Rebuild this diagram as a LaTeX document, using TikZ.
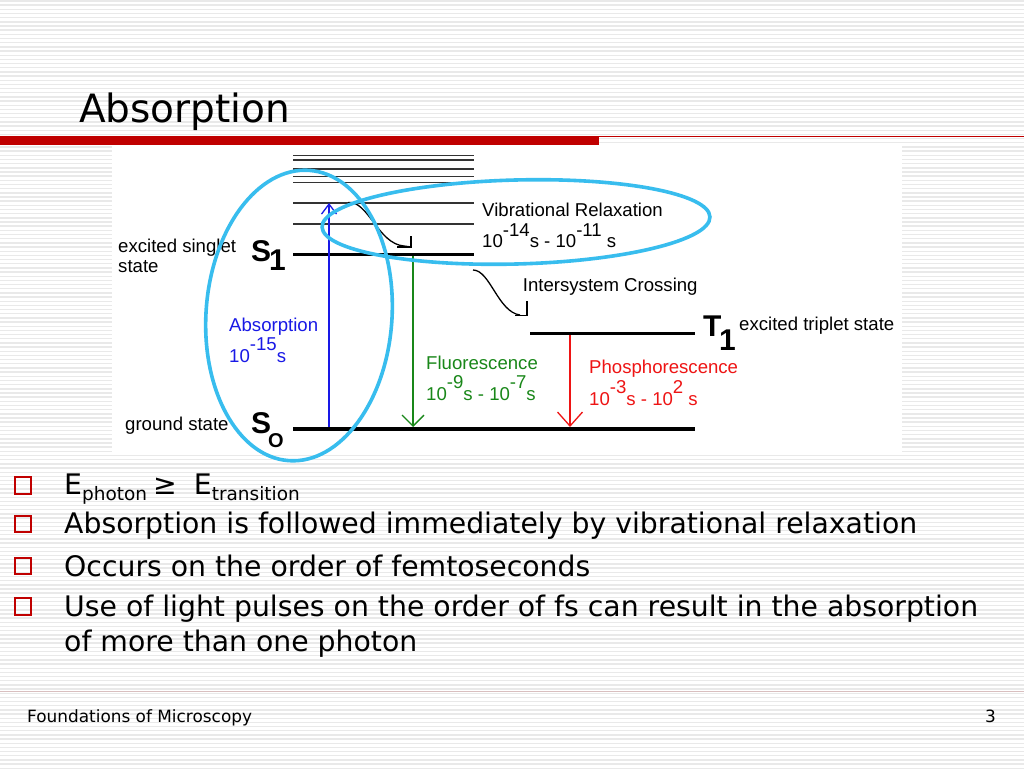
\documentclass[tikz,border=0pt]{standalone}
\usepackage{fontspec}
\setmainfont{DejaVu Sans}
\newfontfamily\diafont{Liberation Sans}
\usetikzlibrary{arrows.meta}
\definecolor{slidered}{RGB}{192,0,0}
\definecolor{ringblue}{RGB}{56,189,238}
\definecolor{absblue}{RGB}{25,25,230}
\definecolor{fluogreen}{RGB}{25,135,25}
\definecolor{phosred}{RGB}{238,20,20}
\definecolor{stripe}{RGB}{233,233,233}
\newcommand\expo[1]{\raisebox{.6em}{#1}}
\newcommand\lowsub[1]{\raisebox{-6pt}{\fontsize{18.5}{18.5}\selectfont #1}}
\tikzset{
  txt/.style={anchor=base west, inner sep=0pt},
  dia/.style={txt, font=\diafont\fontsize{18.6}{20}\selectfont},
  big/.style={txt, font=\diafont\bfseries\fontsize{30}{30}\selectfont},
  vib/.style={line width=1.2pt, black!80},
  lev/.style={line width=3pt},
  ring/.style={ringblue, line width=3.6pt},
  hook/.style={line width=1.3pt},
  bullet/.style={draw=slidered, line width=2.4pt, minimum size=16.5pt, inner sep=0pt},
  bl/.style={txt, font=\fontsize{28.3}{34}\selectfont},
}
\begin{document}
\begin{tikzpicture}[x=1pt,y=-1pt]
  \useasboundingbox (0,0) rectangle (1024,768);
  \fill[white] (0,0) rectangle (1024,768);
  \foreach \i in {0,...,184}
    \draw[stripe, line width=1.4pt] (0,\i*4.17+1) -- (1024,\i*4.17+1);
  \fill[white] (112,145) rectangle (902,453);
  \fill[slidered] (0,136) rectangle (599,145);
  \draw[slidered, line width=1.2pt] (599,136.6) -- (1024,136.6);
  \node[txt, font=\fontsize{39}{39}\selectfont] (title) at (79,122) {Absorption};
  \foreach \y in {155.7,160,169,176.7,182.7,203,224}
    \draw[vib] (293,\y) -- (474,\y);
  \draw[lev] (293,254.3) coordinate (s1L) -- (474,254.3) coordinate (s1R);
  \draw[lev, line width=4.4pt] (293,429) coordinate (s0L) -- (695,429) coordinate (s0R);
  \draw[lev] (530,333.3) coordinate (t1L) -- (695,333.3) coordinate (t1R);
  \coordinate (absFoot) at (329,427);
  \coordinate (absTop) at (329,203);
  \coordinate (fluoTop) at (413,256);
  \coordinate (fluoFoot) at (413,427);
  \coordinate (phosTop) at (570,335);
  \coordinate (phosFoot) at (570,427);
  \draw[absblue, line width=1.3pt, -{Straight Barb[length=10pt,width=15pt]}] (absFoot) -- (absTop);
  \draw[fluogreen, line width=1.3pt, -{Straight Barb[length=11pt,width=22pt]}] (fluoTop) -- (fluoFoot);
  \draw[phosred, line width=1.3pt, -{Straight Barb[length=14pt,width=25pt]}] (phosTop) -- (phosFoot);
  \draw[hook] (348,202.5) .. controls (368,200) and (378,244) .. (404,246) -- (411,247);
  \draw[hook] (411,236) |- (397,247);
  \draw[hook] (473,270) .. controls (490,270) and (498,312) .. (520,315);
  \draw[hook] (527,301) |- (515,315.5);
  \node[big] (S1) at (251,261.7) {S};
  \node[big] (S1sub) at (269,270) {1};
  \node[big] (S0) at (251,433) {S};
  \node[txt, font=\diafont\bfseries\fontsize{20}{20}\selectfont] (S0sub) at (268,447) {O};
  \node[big] (T1) at (703,336.7) {T};
  \node[big] (T1sub) at (719,350) {1};
  \node[dia] (singlet) at (118,252) {excited singlet};
  \node[dia] (singlet2) at (118,272) {state};
  \node[dia] (ground) at (125,430) {ground state};
  \node[dia] (triplet) at (739,330) {excited triplet state};
  \node[dia, absblue] (absLbl) at (229,331) {Absorption};
  \node[dia, absblue] (absTime) at (229,362) {10\expo{-15}s};
  \node[dia, fluogreen] (fluoLbl) at (426,369) {Fluorescence};
  \node[dia, fluogreen] (fluoTime) at (426,400) {10\expo{-9}s - 10\expo{-7}s};
  \node[dia, phosred] (phosLbl) at (589,373.3) {Phosphorescence};
  \node[dia, phosred] (phosTime) at (589,405) {10\expo{-3}s - 10\expo{2} s};
  \node[dia] (vrLbl) at (482,216) {Vibrational Relaxation};
  \node[dia] (vrTime) at (482,247.5) {10\expo{-14}s - 10\expo{-11} s};
  \node[dia] (iscLbl) at (522.7,291.7) {Intersystem Crossing};
  \draw[ring, rotate around={-4:(299,315.5)}] (299,315.5) ellipse [x radius=93, y radius=145.5];
  \draw[ring, rotate around={1.5:(516,222)}] (516,222) ellipse [x radius=194, y radius=42];
  \node[bullet] (b1) at (23,485.5) {};
  \node[bullet] (b2) at (23,524) {};
  \node[bullet] (b3) at (23,566) {};
  \node[bullet] (b4) at (23,606.5) {};
  \node[bl] (line1) at (64,494) {E\lowsub{photon}\hspace{6pt}≥\hspace{17pt}E\lowsub{transition}};
  \node[bl] (line2) at (64,533.5) {Absorption is followed immediately by vibrational relaxation};
  \node[bl] (line3) at (64,576.7) {Occurs on the order of femtoseconds};
  \node[bl] (line4) at (64,616.7) {Use of light pulses on the order of fs can result in the absorption};
  \node[bl] (line5) at (64,651.7) {of more than one photon};
  \draw[red!25!gray!40, line width=1pt] (0,691.7) -- (1024,691.7);
  \node[txt, font=\fontsize{16.9}{17}\selectfont] (footer) at (27,722) {Foundations of Microscopy};
  \node[txt, font=\fontsize{16.9}{17}\selectfont, anchor=base east] (page) at (996,722) {3};
\end{tikzpicture}
\end{document}
